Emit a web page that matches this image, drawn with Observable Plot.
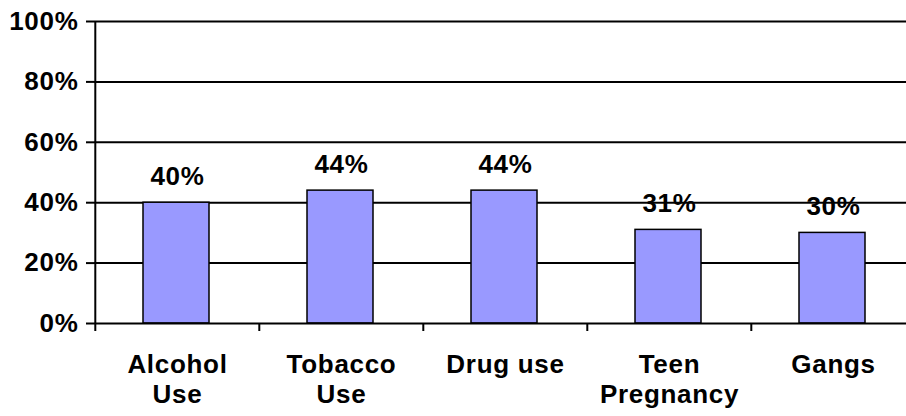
<!DOCTYPE html>
<html>
<head>
<meta charset="utf-8">
<script src="https://cdn.jsdelivr.net/npm/d3@7"></script>
<script src="https://cdn.jsdelivr.net/npm/@observablehq/plot@0.6"></script>
<style>
  html, body { margin: 0; padding: 0; background: #fff; }
  #chart { width: 906px; height: 416px; overflow: hidden; }
</style>
</head>
<body>
<div id="chart"></div>
<script>
const categories = ["Alcohol Use", "Tobacco Use", "Drug use", "Teen Pregnancy", "Gangs"];
const axisLabels = ["Alcohol\nUse", "Tobacco\nUse", "Drug use", "Teen\nPregnancy", "Gangs"];
const values = [40, 44, 44, 31, 30];
const yTicks = [0, 20, 40, 60, 80, 100];

const data = categories.map((c, i) => ({category: c, value: values[i]}));
const labelOf = new Map(categories.map((c, i) => [c, axisLabels[i]]));

const W = 916, H = 416;
const mL = 94, mR = 0, mT = 21, mB = 93;
const step = (W - mL - mR) / categories.length;
const font = "'Liberation Sans', Arial, Helvetica, sans-serif";
const fs = 26;

const plot = Plot.plot({
  width: W,
  height: H,
  marginLeft: mL,
  marginRight: mR,
  marginTop: mT,
  marginBottom: mB,
  style: {
    fontFamily: font,
    fontWeight: "bold",
    fontSize: fs + "px",
    letterSpacing: "0.7px",
    color: "#000",
    background: "#fff",
    maxWidth: "none",
    overflow: "hidden"
  },
  x: {domain: categories, padding: 0, label: null},
  y: {domain: [0, 100], label: null},
  marks: [
    // horizontal gridlines
    Plot.ruleY(yTicks.filter(d => d > 0), {stroke: "#000", strokeWidth: 2}),
    // bars
    Plot.barY(data, {
      x: "category", y: "value",
      fill: "#9999FF", stroke: "#000", strokeWidth: 1.5,
      insetLeft: 48, insetRight: 50
    }),
    // baseline
    Plot.ruleY([0], {stroke: "#000", strokeWidth: 2}),
    // vertical axis line, extending into the first category tick
    Plot.ruleX(categories.slice(0, 1), {
      x: d => d, y1: 100, y2: 0, dx: -step / 2, insetBottom: -8,
      stroke: "#000", strokeWidth: 2
    }),
    // category separator ticks below the baseline
    Plot.ruleX(categories.slice(1), {
      x: d => d, y1: 0, y2: 0, dx: -step / 2, insetBottom: -8,
      stroke: "#000", strokeWidth: 2
    }),
    Plot.axisY({
      ticks: yTicks, tickFormat: d => d + "%",
      tickSize: 8, tickPadding: 8, strokeWidth: 2,
      fontSize: fs, label: null
    }),
    Plot.axisX({
      tickSize: 0, tickPadding: 28,
      tickFormat: d => labelOf.get(d),
      fontSize: fs, lineHeight: 30 / fs, label: null
    }),
    // value labels above each bar
    Plot.text(data, {
      x: "category", y: "value",
      text: d => d.value + "%",
      dy: -18, lineAnchor: "bottom", fontSize: fs
    })
  ]
});

document.getElementById("chart").appendChild(plot);
</script>
</body>
</html>
